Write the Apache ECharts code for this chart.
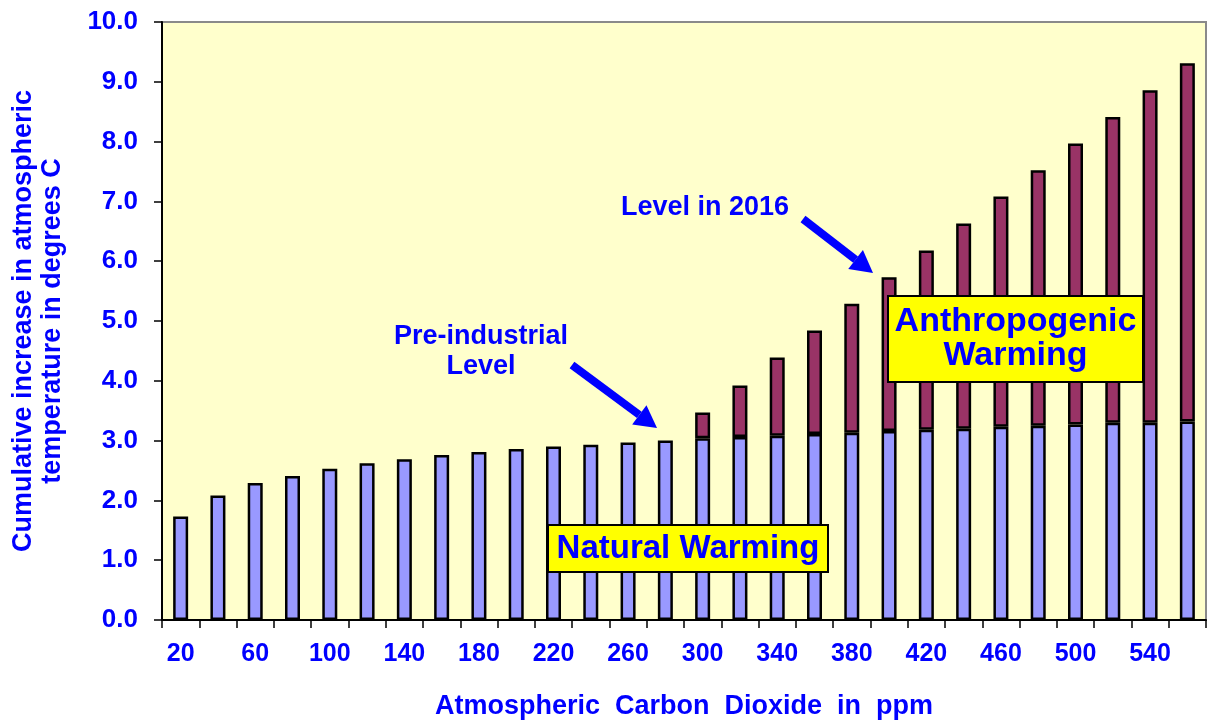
<!DOCTYPE html>
<html>
<head>
<meta charset="utf-8">
<title>CO2 warming</title>
<script src="https://cdn.jsdelivr.net/npm/echarts@6/dist/echarts.min.js"></script>
<style>
  html, body { margin: 0; padding: 0; background: #fff; }
  #chart { width: 1209px; height: 722px; }
</style>
</head>
<body>
<div id="chart"></div>
<script>
// ppm categories along the bottom
const co2Ppm = ['20', '40', '60', '80', '100', '120', '140', '160', '180', '200',
  '220', '240', '260', '280', '300', '320', '340', '360', '380', '400',
  '420', '440', '460', '480', '500', '520', '540', '560'];

// lower (blue) part of each bar
const naturalWarming = [1.73, 2.08, 2.29, 2.41, 2.53, 2.62, 2.69, 2.76, 2.81, 2.86,
  2.90, 2.93, 2.97, 3.00, 3.04, 3.06, 3.08, 3.11, 3.13, 3.16,
  3.18, 3.20, 3.23, 3.25, 3.27, 3.30, 3.30, 3.32];

// upper (maroon) part, stacked on top; '-' = nothing drawn
const anthropogenicWarming = ['-', '-', '-', '-', '-', '-', '-', '-', '-', '-',
  '-', '-', '-', '-', 0.43, 0.86, 1.31, 1.73, 2.16, 2.57,
  3.00, 3.43, 3.85, 4.27, 4.70, 5.11, 5.56, 5.99];

const yTicks = [0, 10, 1]; // min, max, step

const FONT = '"Liberation Sans", Arial, sans-serif';
const BLUE = '#0000ff';
const TOP = 100; // keep annotations above the bars

// arrow = thick line + triangle head
function arrow(x1, y1, x2, y2) {
  const ang = Math.atan2(y2 - y1, x2 - x1);
  const len = 22, half = 12;
  const bx = x2 - len * Math.cos(ang), by = y2 - len * Math.sin(ang);
  const px = -Math.sin(ang) * half, py = Math.cos(ang) * half;
  return [
    { type: 'line', z: TOP, shape: { x1: x1, y1: y1, x2: bx, y2: by },
      style: { stroke: BLUE, lineWidth: 8 } },
    { type: 'polygon', z: TOP, shape: { points: [[x2, y2], [bx + px, by + py], [bx - px, by - py]] },
      style: { fill: BLUE } }
  ];
}

// yellow labelled box
function box(x, y, w, h, text, size, lh) {
  return [
    { type: 'rect', z: TOP, shape: { x: x, y: y, width: w, height: h },
      style: { fill: '#ffff00', stroke: '#000', lineWidth: 2 } },
    { type: 'text', z: TOP + 1, x: x + w / 2, y: y + h / 2,
      style: { text: text, fill: BLUE, font: 'bold ' + size + 'px ' + FONT,
               align: 'center', verticalAlign: 'middle', lineHeight: lh } }
  ];
}

const myChart = echarts.init(document.getElementById('chart'));

myChart.setOption({
  animation: false,
  backgroundColor: '#fff',
  textStyle: { fontFamily: FONT },
  grid: {
    left: 162, right: 3, top: 22, bottom: 102,
    outerBoundsMode: 'none',
    show: true, backgroundColor: '#ffffcc', borderColor: '#8a8a8a', borderWidth: 2
  },
  xAxis: {
    type: 'category',
    data: co2Ppm,
    name: 'Atmospheric  Carbon  Dioxide  in  ppm',
    nameLocation: 'middle',
    nameGap: 73,
    nameTextStyle: { color: BLUE, fontSize: 27, fontWeight: 'bold' },
    axisLine: { lineStyle: { color: '#000', width: 2 } },
    axisTick: { show: true, interval: 0, length: 8, lineStyle: { color: '#000', width: 1.5 } },
    axisLabel: { interval: 1, color: BLUE, fontSize: 25, fontWeight: 'bold', margin: 22 }
  },
  yAxis: {
    type: 'value',
    min: yTicks[0], max: yTicks[1], interval: yTicks[2],
    name: 'Cumulative increase in atmospheric\ntemperature in degrees C',
    nameLocation: 'middle',
    nameRotate: 90,
    nameGap: 95,
    nameTextStyle: { color: BLUE, fontSize: 27, fontWeight: 'bold', lineHeight: 29, align: 'center' },
    axisLine: { show: true, lineStyle: { color: '#000', width: 2 } },
    axisTick: { show: true, length: 8, lineStyle: { color: '#000', width: 1.5 } },
    splitLine: { show: false },
    axisLabel: {
      color: BLUE, fontSize: 26, fontWeight: 'bold', margin: 24,
      formatter: v => v.toFixed(1)
    }
  },
  series: [
    {
      name: 'Natural Warming', type: 'bar', stack: 'total',
      data: naturalWarming, barWidth: 15,
      itemStyle: { color: '#9999ff', borderColor: '#000', borderWidth: 2.5 }
    },
    {
      name: 'Anthropogenic Warming', type: 'bar', stack: 'total',
      data: anthropogenicWarming, barWidth: 15,
      itemStyle: { color: '#993366', borderColor: '#000', borderWidth: 2.5 }
    }
  ],
  graphic: [
    ...box(548, 525, 280, 47, 'Natural Warming', 33, 34),
    ...box(888, 296, 255, 86, 'Anthropogenic\nWarming', 34, 34),
    { type: 'text', x: 481, y: 352, z: TOP,
      style: { text: 'Pre-industrial\nLevel', fill: BLUE, font: 'bold 27px ' + FONT,
               align: 'center', verticalAlign: 'middle', lineHeight: 30 } },
    { type: 'text', x: 705, y: 208, z: TOP,
      style: { text: 'Level in 2016', fill: BLUE, font: 'bold 27px ' + FONT,
               align: 'center', verticalAlign: 'middle' } },
    ...arrow(572, 365, 657, 428),
    ...arrow(803, 219, 873, 273)
  ]
});
</script>
</body>
</html>
